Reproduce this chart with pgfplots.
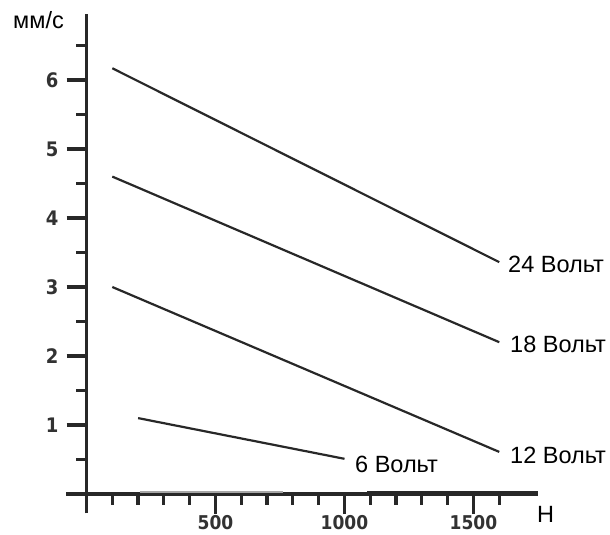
\documentclass[border=0pt]{standalone}
\usepackage{pgfplots}
\pgfplotsset{compat=1.18}
\usepackage{fontspec}
\setmainfont{Liberation Sans}
\newfontfamily\tickfont{DejaVu Sans Condensed}
\definecolor{ink}{RGB}{40,40,40}
\definecolor{tickgray}{RGB}{50,50,50}

\begin{document}
\begin{tikzpicture}
\path[use as bounding box] (0,0) rectangle (610bp,-535bp);
\begin{axis}[
    at={(86.5bp,-494bp)}, anchor=origin,
    scale only axis,
    width=471.6bp, height=498.9bp,
    xmin=-78, xmax=1750,
    ymin=-0.28, ymax=6.95,
    axis lines=middle,
    axis line style={-, line width=3.2bp, color=ink},
    tick align=outside,
    xtick={0,500,1000,1500},
    xticklabels={,500,1000,1500},
    minor xtick={100,200,300,400,600,700,800,900,1100,1200,1300,1400,1600},
    ytick={1,2,3,4,5,6},
    minor ytick={0.5,1.5,2.5,3.5,4.5,5.5,6.5},
    major tick length=20bp,
    minor tick length=10.5bp,
    tick style={line width=3.2bp, color=ink},
    /pgf/number format/assume math mode=true,
    yticklabel style={font=\tickfont\bfseries\fontsize{20bp}{22bp}\selectfont, text=tickgray,
        anchor=east, inner sep=0pt, xshift=-8bp},
    xticklabel style={font=\tickfont\bfseries\fontsize{19bp}{21bp}\selectfont, text=tickgray,
        anchor=north, inner sep=0pt, yshift=-1bp},
    clip=false,
]
% 24 V
\addplot[line width=2.2bp, color=ink] coordinates {(100,6.17) (1600,3.36)};
% 18 V
\addplot[line width=2.2bp, color=ink] coordinates {(100,4.60) (1600,2.20)};
% 12 V
\addplot[line width=2.2bp, color=ink] coordinates {(100,3.00) (1600,0.61)};
% 6 V
\addplot[line width=2.2bp, color=ink] coordinates {(200,1.10) (1000,0.51)};
% scanned thicker bits of the x axis
\draw[line width=2bp, color=gray!70] (axis cs:207,0.035) -- (axis cs:762,0.035);
\draw[line width=2bp, color=ink] (axis cs:1087,0.035) -- (axis cs:1750,0.035);
\end{axis}
\begin{scope}[every node/.style={inner sep=0pt, font=\fontsize{23.5bp}{28bp}\selectfont}]
\node[anchor=base west] at (13bp,-28bp) {мм/с};
\node[anchor=base west] at (537bp,-522bp) {H};
\node[anchor=base west] at (508bp,-272bp) {24 Вольт};
\node[anchor=base west] at (510bp,-352bp) {18 Вольт};
\node[anchor=base west] at (510bp,-463bp) {12 Вольт};
\node[anchor=base west] at (355bp,-472bp) {6 Вольт};
\end{scope}
\end{tikzpicture}
\end{document}
